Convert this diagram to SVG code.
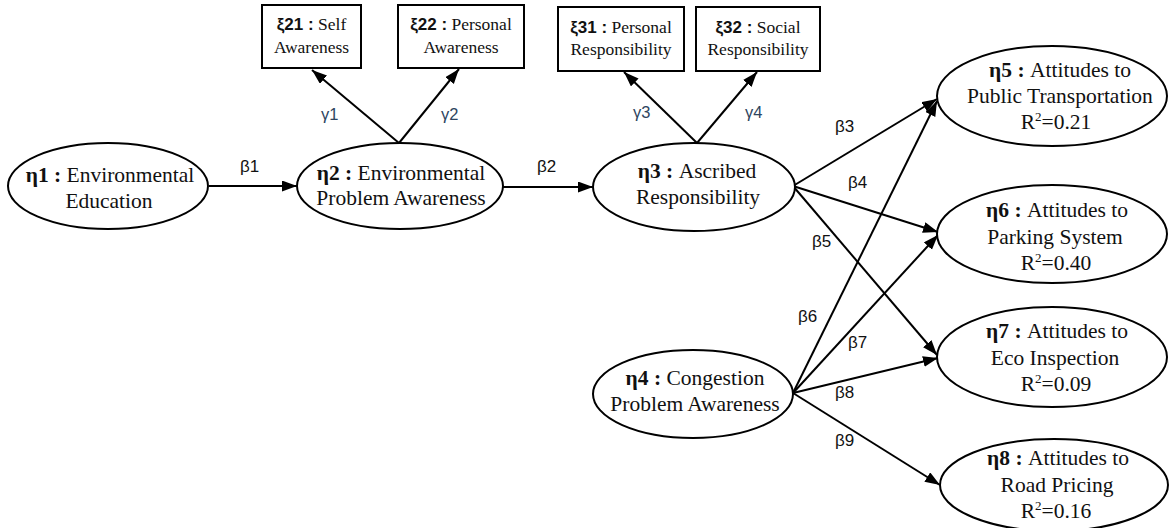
<svg xmlns="http://www.w3.org/2000/svg" width="1171" height="528" viewBox="0 0 1171 528">
<style>
.bg{fill:#ffffff}
.node{fill:#ffffff;stroke:#000000;stroke-width:2}
.box{fill:#ffffff;stroke:#000000;stroke-width:2}
.t{font-size:21.5px;fill:#111111;text-anchor:middle}
.bt{font-size:17.5px;fill:#111111;text-anchor:middle}
.b{font-weight:bold}
.xi{font-weight:bold;font-size:17px}
.conn{stroke:#000000;stroke-width:2;fill:none;marker-end:url(#arr)}
.beta{font-size:17px;fill:#111111}
.gamma{font-size:16.5px;fill:#2e4560}
</style>
<defs>
<marker id="arr" markerUnits="userSpaceOnUse" markerWidth="17" markerHeight="13" refX="15" refY="5.5" orient="auto">
<path d="M0,0 L15,5.5 L0,11 z" fill="#000000"/>
</marker>
</defs>
<rect class="bg" x="0" y="0" width="1171" height="528"/>

<g id="connectors" font-family="Liberation Sans, Arial, sans-serif">
<line class="conn" x1="209" y1="186" x2="297" y2="186"/>
<line class="conn" x1="502" y1="187" x2="593" y2="187"/>
<line class="conn" x1="399" y1="143" x2="312" y2="70"/>
<line class="conn" x1="399" y1="143" x2="459" y2="69"/>
<line class="conn" x1="697" y1="143" x2="624" y2="72"/>
<line class="conn" x1="697" y1="143" x2="757" y2="72"/>
<line class="conn" x1="793" y1="186" x2="937" y2="99"/>
<line class="conn" x1="793" y1="186" x2="938" y2="232"/>
<line class="conn" x1="793" y1="186" x2="937" y2="355"/>
<line class="conn" x1="793" y1="393" x2="937" y2="101"/>
<line class="conn" x1="793" y1="393" x2="938" y2="235"/>
<line class="conn" x1="793" y1="393" x2="938" y2="358"/>
<line class="conn" x1="793" y1="393" x2="940" y2="485"/>
<text class="beta" x="240" y="172">β1</text>
<text class="beta" x="537" y="172">β2</text>
<text class="beta" x="835" y="132">β3</text>
<text class="beta" x="848" y="188">β4</text>
<text class="beta" x="812" y="247">β5</text>
<text class="beta" x="798" y="322">β6</text>
<text class="beta" x="848" y="348">β7</text>
<text class="beta" x="835" y="398">β8</text>
<text class="beta" x="835" y="446">β9</text>
<text class="gamma" x="321" y="120">γ1</text>
<text class="gamma" x="441" y="120">γ2</text>
<text class="gamma" x="633" y="118">γ3</text>
<text class="gamma" x="745" y="118">γ4</text>
</g>

<g font-family="Liberation Serif, Times New Roman, serif">
<g id="xi21">
<rect class="box" x="262" y="5" width="99" height="63"/>
<text class="bt" x="311.5" y="30"><tspan class="xi" font-family="Liberation Sans, Arial, sans-serif">ξ21 :</tspan> Self</text>
<text class="bt" x="311.5" y="53">Awareness</text>
</g>
<g id="xi22">
<rect class="box" x="398" y="5" width="126" height="63"/>
<text class="bt" x="461" y="30"><tspan class="xi" font-family="Liberation Sans, Arial, sans-serif">ξ22 :</tspan> Personal</text>
<text class="bt" x="461" y="53">Awareness</text>
</g>
<g id="xi31">
<rect class="box" x="558" y="7" width="126" height="64"/>
<text class="bt" x="621" y="33"><tspan class="xi" font-family="Liberation Sans, Arial, sans-serif">ξ31 :</tspan> Personal</text>
<text class="bt" x="621" y="55">Responsibility</text>
</g>
<g id="xi32">
<rect class="box" x="696" y="7" width="124" height="64"/>
<text class="bt" x="758" y="33"><tspan class="xi" font-family="Liberation Sans, Arial, sans-serif">ξ32 :</tspan> Social</text>
<text class="bt" x="758" y="55">Responsibility</text>
</g>

<g id="eta1">
<ellipse class="node" cx="108" cy="186" rx="100" ry="43"/>
<text class="t" x="110" y="182"><tspan class="b">η1 :</tspan> Environmental</text>
<text class="t" x="109" y="208">Education</text>
</g>
<g id="eta2">
<ellipse class="node" cx="400" cy="186" rx="103" ry="43"/>
<text class="t" x="401" y="180"><tspan class="b">η2 :</tspan> Environmental</text>
<text class="t" x="401" y="205">Problem Awareness</text>
</g>
<g id="eta3">
<ellipse class="node" cx="694" cy="187" rx="101" ry="44"/>
<text class="t" x="697" y="178"><tspan class="b">η3 :</tspan> Ascribed</text>
<text class="t" x="698" y="204">Responsibility</text>
</g>
<g id="eta4">
<ellipse class="node" cx="693" cy="394" rx="100" ry="44"/>
<text class="t" x="695" y="385"><tspan class="b">η4 :</tspan> Congestion</text>
<text class="t" x="695" y="411">Problem Awareness</text>
</g>
<g id="eta5">
<ellipse class="node" cx="1052" cy="96" rx="115" ry="50"/>
<text class="t" x="1060" y="77"><tspan class="b">η5 :</tspan> Attitudes to</text>
<text class="t" x="1060" y="103">Public Transportation</text>
<text class="t" x="1056" y="129">R<tspan dy="-8" font-size="13">2</tspan><tspan dy="8">=0.21</tspan></text>
</g>
<g id="eta6">
<ellipse class="node" cx="1052" cy="234" rx="115" ry="49"/>
<text class="t" x="1057" y="217"><tspan class="b">η6 :</tspan> Attitudes to</text>
<text class="t" x="1055" y="244">Parking System</text>
<text class="t" x="1056" y="270">R<tspan dy="-8" font-size="13">2</tspan><tspan dy="8">=0.40</tspan></text>
</g>
<g id="eta7">
<ellipse class="node" cx="1052" cy="357" rx="115" ry="50"/>
<text class="t" x="1057" y="338"><tspan class="b">η7 :</tspan> Attitudes to</text>
<text class="t" x="1055" y="365">Eco Inspection</text>
<text class="t" x="1056" y="391">R<tspan dy="-8" font-size="13">2</tspan><tspan dy="8">=0.09</tspan></text>
</g>
<g id="eta8">
<ellipse class="node" cx="1054" cy="485" rx="114" ry="46"/>
<text class="t" x="1058" y="465"><tspan class="b">η8 :</tspan> Attitudes to</text>
<text class="t" x="1057" y="492">Road Pricing</text>
<text class="t" x="1056" y="518">R<tspan dy="-8" font-size="13">2</tspan><tspan dy="8">=0.16</tspan></text>
</g>
</g>
</svg>
